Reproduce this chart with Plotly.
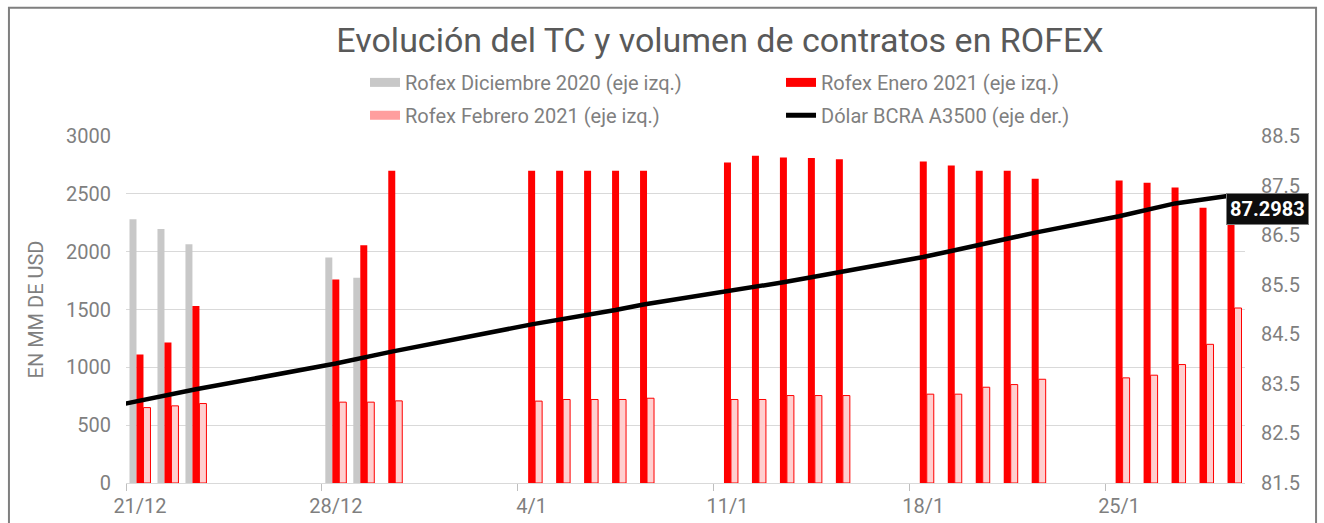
import plotly.graph_objects as go

# ---------------- data ----------------
dic_dates = ["2020-12-21", "2020-12-22", "2020-12-23", "2020-12-28", "2020-12-29"]
dic_vals = [2280, 2195, 2065, 1950, 1775]

trade_dates = ["2020-12-21", "2020-12-22", "2020-12-23", "2020-12-28", "2020-12-29", "2020-12-30",
               "2021-01-04", "2021-01-05", "2021-01-06", "2021-01-07", "2021-01-08",
               "2021-01-11", "2021-01-12", "2021-01-13", "2021-01-14", "2021-01-15",
               "2021-01-18", "2021-01-19", "2021-01-20", "2021-01-21", "2021-01-22",
               "2021-01-25", "2021-01-26", "2021-01-27", "2021-01-28", "2021-01-29"]
ene_vals = [1110, 1215, 1530, 1760, 2055, 2700,
            2700, 2700, 2700, 2700, 2700,
            2770, 2830, 2815, 2810, 2800,
            2780, 2745, 2700, 2700, 2630,
            2615, 2595, 2555, 2380, 2300]
feb_vals = [652, 667, 687, 699, 699, 710,
            708, 722, 722, 722, 733,
            722, 722, 756, 756, 756,
            768, 768, 828, 851, 897,
            909, 932, 1024, 1199, 1513]

dolar_dates = ["2020-12-18"] + trade_dates
dolar_vals = [82.82, 83.17, 83.28, 83.39, 83.91, 84.03, 84.15,
              84.70, 84.79, 84.89, 84.99, 85.10,
              85.36, 85.46, 85.55, 85.65, 85.75,
              86.06, 86.18, 86.31, 86.42, 86.55,
              86.88, 87.02, 87.14, 87.22, 87.2983]

names = ["Rofex Diciembre 2020 (eje izq.)", "Rofex Enero 2021 (eje izq.)",
         "Rofex Febrero 2021 (eje izq.)", "Dólar BCRA A3500 (eje der.)"]
title_text = "Evolución del TC y volumen de contratos en ROFEX"
yaxis_title = "EN MM DE USD"
x_range = ["2020-12-20 12:00", "2021-01-29 12:00"]

# ---------------- styles ----------------
FONT = "Roboto"
GRAY_TXT = "#7F7F7F"
C_DIC = "#C8C8C8"
C_ENE = "#FF0000"
C_FEB = "#FFCFCF"
C_LINE = "#000000"
DAY_MS = 86400000

fig = go.Figure()

fig.add_trace(go.Bar(x=dic_dates, y=dic_vals, name=names[0], marker=dict(color=C_DIC, line=dict(width=0)),
                     showlegend=False, offsetgroup="a"))
fig.add_trace(go.Bar(x=trade_dates, y=ene_vals, name=names[1], marker=dict(color=C_ENE, line=dict(width=0)),
                     showlegend=False, offsetgroup="b"))
fig.add_trace(go.Bar(x=trade_dates, y=feb_vals, name=names[2],
                     marker=dict(color=C_FEB, line=dict(color=C_ENE, width=1)),
                     showlegend=False, offsetgroup="c"))
fig.add_trace(go.Scatter(x=dolar_dates, y=dolar_vals, name=names[3], mode="lines",
                         line=dict(color=C_LINE, width=4.5), yaxis="y2", showlegend=False))

# legend-only entries (swatches)
fig.add_trace(go.Scatter(x=[None], y=[None], mode="lines", name=names[0],
                         line=dict(color=C_DIC, width=9), legend="legend"))
fig.add_trace(go.Scatter(x=[None], y=[None], mode="lines", name=names[1],
                         line=dict(color=C_ENE, width=9), legend="legend"))
fig.add_trace(go.Scatter(x=[None], y=[None], mode="lines", name=names[2],
                         line=dict(color="#FF9E9E", width=9), legend="legend2"))
fig.add_trace(go.Scatter(x=[None], y=[None], mode="lines", name=names[3],
                         line=dict(color=C_LINE, width=5), legend="legend2"))

fig.add_annotation(x=dolar_dates[-1], y=dolar_vals[-1], xref="x", yref="y2",
                   text="<b>%.4f</b>" % dolar_vals[-1], showarrow=False,
                   xanchor="left", yanchor="top", xshift=-5, yshift=3,
                   font=dict(family=FONT, size=20, color="#FFFFFF"),
                   bgcolor="#0D0D0D", bordercolor="#7F7F7F", borderwidth=1, borderpad=3)

# outer border
fig.add_shape(type="rect", xref="paper", yref="paper", x0=-0.1046, x1=1.0635, y0=-0.2, y1=1.3695,
              line=dict(color="#7F7F7F", width=2), fillcolor="rgba(0,0,0,0)", layer="below")

legend_common = dict(orientation="h", xanchor="left", yanchor="middle",
                     font=dict(family=FONT, size=20, color=GRAY_TXT),
                     entrywidth=371, entrywidthmode="pixels", bgcolor="rgba(0,0,0,0)",
                     itemclick=False, itemdoubleclick=False, tracegroupgap=0)

fig.update_layout(
    width=1324, height=523,
    margin=dict(l=126, r=79, t=136, b=40, autoexpand=False),
    paper_bgcolor="#FFFFFF", plot_bgcolor="#FFFFFF",
    barmode="group", bargap=0.25, bargroupgap=0,
    title=dict(text=title_text, x=720 / 1324, xanchor="center", y=1 - 40 / 523, yanchor="middle",
               font=dict(family=FONT, size=34, color="#595959")),
    legend=dict(x=0.2136, y=1.1545, **legend_common),
    legend2=dict(x=0.2136, y=1.0595, **legend_common),
    xaxis=dict(type="date", range=x_range, tick0="2020-12-21", dtick=7 * DAY_MS,
               tickformat="%-d/%-m", ticks="", showgrid=False, zeroline=False,
               showline=True, linecolor="#D9D9D9", linewidth=1,
               tickfont=dict(family=FONT, size=20, color=GRAY_TXT), ticklabelstandoff=5,
               minor=dict(ticks="outside", ticklen=7, tickcolor="#BFBFBF", tickwidth=1,
                          tick0="2020-12-20 12:00", dtick=7 * DAY_MS, showgrid=False)),
    yaxis=dict(range=[0, 3000], tick0=0, dtick=500, showgrid=True, gridcolor="#D9D9D9", gridwidth=1,
               zeroline=False, ticks="", tickfont=dict(family=FONT, size=20, color=GRAY_TXT),
               ticklabelstandoff=14,
               title=dict(text=yaxis_title, font=dict(family=FONT, size=20, color=GRAY_TXT), standoff=17)),
    yaxis2=dict(range=[81.5, 88.5], tick0=81.5, dtick=1, overlaying="y", side="right",
                showgrid=False, zeroline=False, ticks="", tickformat=".1f",
                tickfont=dict(family=FONT, size=20, color=GRAY_TXT), ticklabelstandoff=15),
)

fig.write_html("out.html", config={"displayModeBar": False},
               post_script="document.body.style.margin='0px';")
